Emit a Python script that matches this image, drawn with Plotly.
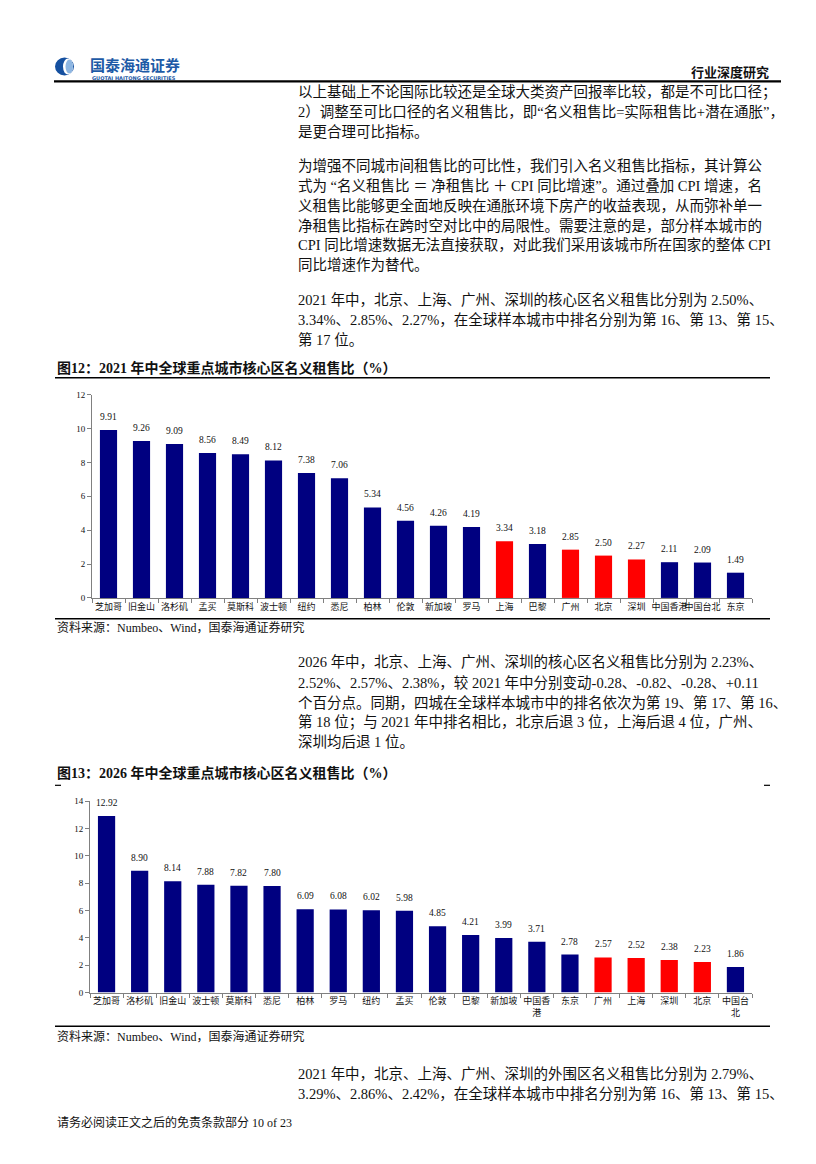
import plotly.graph_objects as go

W, H = 816, 1164
OFF = 8  # the page body adds an 8px margin, so shift everything back

# 图12：2021 年中
cities_2021 = ["芝加哥", "旧金山", "洛杉矶", "孟买", "莫斯科", "波士顿", "纽约", "悉尼", "柏林", "伦敦",
               "新加坡", "罗马", "上海", "巴黎", "广州", "北京", "深圳", "中国香港", "中国台北", "东京"]
ratio_2021 = [9.91, 9.26, 9.09, 8.56, 8.49, 8.12, 7.38, 7.06, 5.34, 4.56,
              4.26, 4.19, 3.34, 3.18, 2.85, 2.50, 2.27, 2.11, 2.09, 1.49]

# 图13：2026 年中
cities_2026 = ["芝加哥", "洛杉矶", "旧金山", "波士顿", "莫斯科", "悉尼", "柏林", "罗马", "纽约", "孟买",
               "伦敦", "巴黎", "新加坡", "中国香港", "东京", "广州", "上海", "深圳", "北京", "中国台北"]
labels_2026 = ["芝加哥", "洛杉矶", "旧金山", "波士顿", "莫斯科", "悉尼", "柏林", "罗马", "纽约", "孟买",
               "伦敦", "巴黎", "新加坡", "中国香<br>港", "东京", "广州", "上海", "深圳", "北京", "中国台<br>北"]
ratio_2026 = [12.92, 8.90, 8.14, 7.88, 7.82, 7.80, 6.09, 6.08, 6.02, 5.98,
              4.85, 4.21, 3.99, 3.71, 2.78, 2.57, 2.52, 2.38, 2.23, 1.86]

highlight = ["北京", "上海", "广州", "深圳"]

NAVY = "#000080"
RED = "#ff0000"
SERIF = "Liberation Serif, Noto Sans CJK SC"
CJK = "Noto Sans CJK SC"


def px(x):
    return (x - OFF) / W


def py(y):
    return 1 - (y - OFF) / H


def colors(cities):
    return [RED if c in highlight else NAVY for c in cities]


fig = go.Figure()
fig.add_trace(go.Bar(x=cities_2021, y=ratio_2021, marker=dict(color=colors(cities_2021), line=dict(width=0)),
                     xaxis="x", yaxis="y", showlegend=False, hoverinfo="skip"))
fig.add_trace(go.Bar(x=cities_2026, y=ratio_2026, marker=dict(color=colors(cities_2026), line=dict(width=0)),
                     xaxis="x2", yaxis="y2", showlegend=False, hoverinfo="skip"))

annotations = []

# value labels above the bars
for cities, vals, xr, yr in [(cities_2021, ratio_2021, "x", "y"), (cities_2026, ratio_2026, "x2", "y2")]:
    for c, v in zip(cities, vals):
        annotations.append(dict(x=c, y=v, xref=xr, yref=yr, text=f"{v:.2f}", showarrow=False,
                                yanchor="bottom", yshift=6, font=dict(family=SERIF, size=9.5, color="#111")))


def text(x, y, s, size=15, bold=False, color="#111", family=SERIF, anchor="left"):
    if bold:
        s = "<b>" + s + "</b>"
    annotations.append(dict(x=px(x), y=py(y), xref="paper", yref="paper", text=s, showarrow=False,
                            xanchor=anchor, yanchor="middle", font=dict(family=family, size=size, color=color)))


# header
text(88, 60, "国泰海通证券", size=15, bold=True, color="#1d5aa6", family=CJK)
text(90, 73.5, "GUOTAI HAITONG SECURITIES", size=5, bold=True, color="#1d5aa6", family="DejaVu Sans")
text(771, 67, "行业深度研究", size=13, bold=True, color="#111", family=CJK, anchor="right")

# body paragraphs
para1 = ["以上基础上不论国际比较还是全球大类资产回报率比较，都是不可比口径；",
         "2）调整至可比口径的名义租售比，即“名义租售比=实际租售比+潜在通胀”，",
         "是更合理可比指标。"]
para2 = ["为增强不同城市间租售比的可比性，我们引入名义租售比指标，其计算公",
         "式为 “名义租售比 ＝ 净租售比 ＋ CPI 同比增速”。通过叠加 CPI 增速，名",
         "义租售比能够更全面地反映在通胀环境下房产的收益表现，从而弥补单一",
         "净租售比指标在跨时空对比中的局限性。需要注意的是，部分样本城市的",
         "CPI 同比增速数据无法直接获取，对此我们采用该城市所在国家的整体 CPI",
         "同比增速作为替代。"]
para3 = ["2021 年中，北京、上海、广州、深圳的核心区名义租售比分别为 2.50%、",
         "3.34%、2.85%、2.27%，在全球样本城市中排名分别为第 16、第 13、第 15、",
         "第 17 位。"]
para4 = ["2026 年中，北京、上海、广州、深圳的核心区名义租售比分别为 2.23%、",
         "2.52%、2.57%、2.38%，较 2021 年中分别变动-0.28、-0.82、-0.28、+0.11",
         "个百分点。同期，四城在全球样本城市中的排名依次为第 19、第 17、第 16、",
         "第 18 位；与 2021 年中排名相比，北京后退 3 位，上海后退 4 位，广州、",
         "深圳均后退 1 位。"]
para5 = ["2021 年中，北京、上海、广州、深圳的外围区名义租售比分别为 2.79%、",
         "3.29%、2.86%、2.42%，在全球样本城市中排名分别为第 16、第 13、第 15、"]

for lines, y0 in [(para1, 88), (para2, 162), (para3, 297), (para4, 663), (para5, 1078)]:
    for i, line in enumerate(lines):
        text(296, y0 + i * 20, line, size=14.5)

# figure titles and sources
text(55, 366, "图12：2021 年中全球重点城市核心区名义租售比（%）", size=14, bold=True)
text(55, 775, "图13：2026 年中全球重点城市核心区名义租售比（%）", size=14, bold=True)
text(55, 628, "资料来源：Numbeo、Wind，国泰海通证券研究", size=12)
text(55, 1040, "资料来源：Numbeo、Wind，国泰海通证券研究", size=12)
text(55, 1127, "请务必阅读正文之后的免责条款部分 10 of 23", size=12)

shapes = []


def hline(x0, x1, y, w=1.2):
    shapes.append(dict(type="line", xref="paper", yref="paper", x0=px(x0), x1=px(x1), y0=py(y), y1=py(y),
                       line=dict(color="black", width=w)))


hline(54, 781, 77, 2.2)
hline(55, 770, 376, 1.5)
hline(55, 770, 619, 1.5)
hline(55, 61, 787, 1.2)
hline(764, 770, 787, 1.2)
hline(55, 770, 1030, 1.5)

# logo mark
shapes.append(dict(type="circle", xref="paper", yref="paper", x0=px(55), x1=px(74), y0=py(71), y1=py(53),
                   fillcolor="#1550a0", line=dict(width=0)))
shapes.append(dict(type="circle", xref="paper", yref="paper", x0=px(63), x1=px(73), y0=py(70), y1=py(54),
                   fillcolor="white", line=dict(width=0)))
shapes.append(dict(type="circle", xref="paper", yref="paper", x0=px(65.5), x1=px(73), y0=py(69), y1=py(55),
                   fillcolor="#8db6e2", line=dict(width=0)))

axis_common = dict(showgrid=False, zeroline=False, showline=True, linecolor="#808080", linewidth=1,
                   ticks="outside", ticklen=4, tickcolor="#808080",
                   tickfont=dict(family=SERIF, size=9, color="#111"))

fig.update_layout(
    width=W, height=H,
    margin=dict(l=0, r=0, t=0, b=0),
    paper_bgcolor="white", plot_bgcolor="white",
    bargap=0.48,
    xaxis=dict(domain=[px(92), px(752)], anchor="y", type="category", tickangle=0, tickson="boundaries",
               **axis_common),
    yaxis=dict(domain=[py(598), py(393)], anchor="x", range=[0, 12], dtick=2, **axis_common),
    xaxis2=dict(domain=[px(90), px(752)], anchor="y2", type="category", tickangle=0, tickson="boundaries",
                tickvals=cities_2026, ticktext=labels_2026, **axis_common),
    yaxis2=dict(domain=[py(996), py(803)], anchor="x2", range=[0, 14], dtick=2, **axis_common),
    annotations=annotations,
    shapes=shapes,
)

fig.write_html("out.html")
